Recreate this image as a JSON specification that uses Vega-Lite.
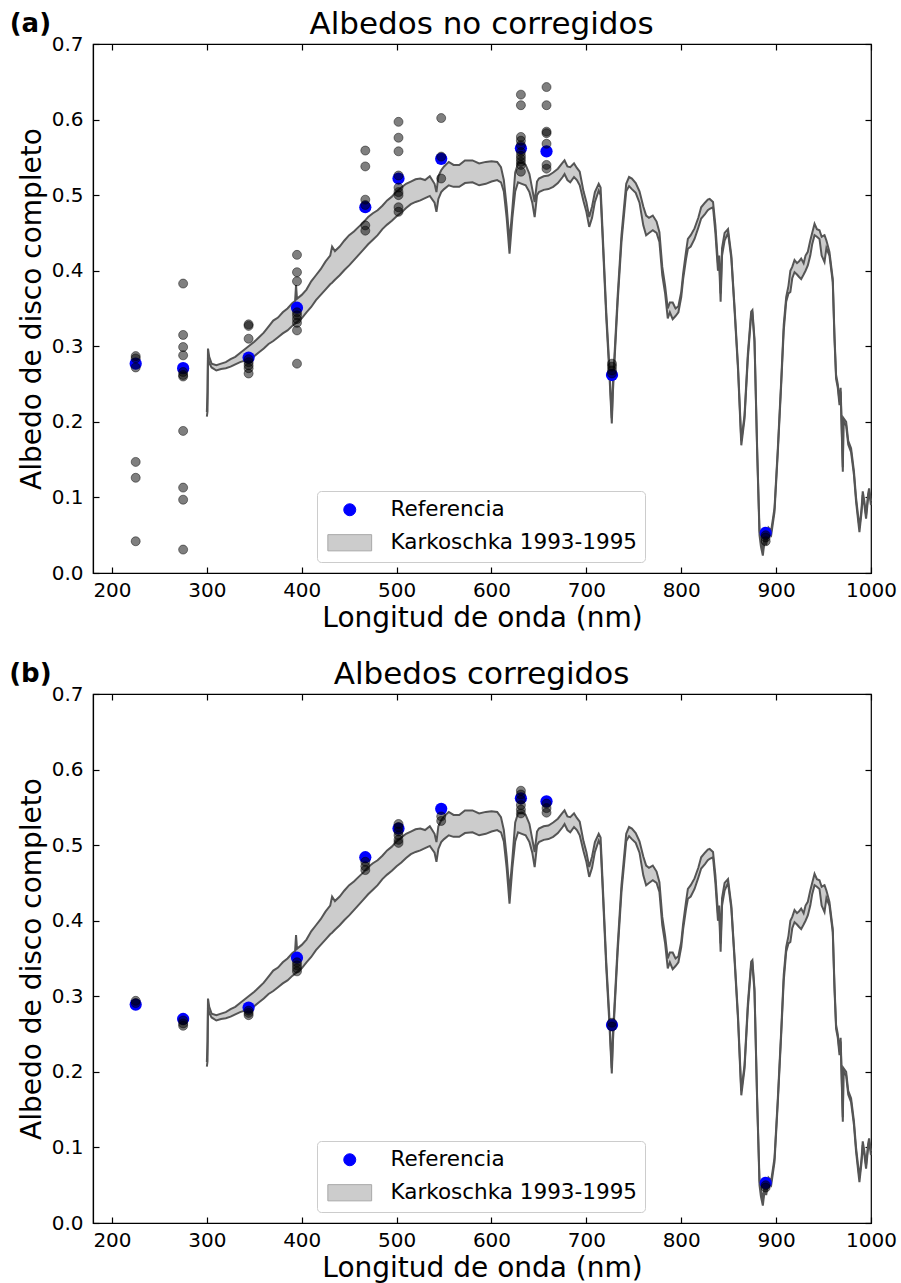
{
  "$schema": "https://vega.github.io/schema/vega-lite/v6.json",
  "padding": {"left": 8, "top": 8, "right": 5, "bottom": 2},
  "config": {
    "font": "DejaVu Sans",
    "view": {"stroke": "#000", "strokeWidth": 1.2},
    "axis": {"grid": false, "tickColor": "#000", "domainColor": "#000", "domainWidth": 1.2, "labelColor": "#000", "titleColor": "#000", "labelFontSize": 20, "titleFontSize": 28, "titleFontWeight": "normal", "tickSize": -6, "tickWidth": 1.2, "labelPadding": 13, "labelFlush": false, "labelFont": "DejaVu Sans", "titleFont": "DejaVu Sans"},
    "axisY": {"labelPadding": 16}
  },
  "datasets": {
    "band": [
      {"nm": 300.0, "lo": 0.207, "hi": 0.213},
      {"nm": 300.7, "lo": 0.214, "hi": 0.24},
      {"nm": 301.2, "lo": 0.285, "hi": 0.297},
      {"nm": 302.5, "lo": 0.278, "hi": 0.286},
      {"nm": 305, "lo": 0.272, "hi": 0.277},
      {"nm": 310, "lo": 0.268, "hi": 0.275},
      {"nm": 315, "lo": 0.27, "hi": 0.277},
      {"nm": 320, "lo": 0.271, "hi": 0.279},
      {"nm": 325, "lo": 0.273, "hi": 0.283},
      {"nm": 330, "lo": 0.276, "hi": 0.286},
      {"nm": 335, "lo": 0.279, "hi": 0.291},
      {"nm": 340, "lo": 0.281, "hi": 0.296},
      {"nm": 345, "lo": 0.284, "hi": 0.301},
      {"nm": 350, "lo": 0.287, "hi": 0.306},
      {"nm": 355, "lo": 0.292, "hi": 0.312},
      {"nm": 360, "lo": 0.297, "hi": 0.318},
      {"nm": 365, "lo": 0.303, "hi": 0.326},
      {"nm": 370, "lo": 0.307, "hi": 0.334},
      {"nm": 375, "lo": 0.312, "hi": 0.338},
      {"nm": 380, "lo": 0.317, "hi": 0.345},
      {"nm": 385, "lo": 0.321, "hi": 0.35},
      {"nm": 390, "lo": 0.327, "hi": 0.357},
      {"nm": 393, "lo": 0.33, "hi": 0.36},
      {"nm": 394, "lo": 0.331, "hi": 0.381},
      {"nm": 395, "lo": 0.332, "hi": 0.363},
      {"nm": 400, "lo": 0.337, "hi": 0.368},
      {"nm": 405, "lo": 0.345, "hi": 0.375},
      {"nm": 410, "lo": 0.352, "hi": 0.386},
      {"nm": 415, "lo": 0.361, "hi": 0.394},
      {"nm": 420, "lo": 0.368, "hi": 0.402},
      {"nm": 425, "lo": 0.375, "hi": 0.412},
      {"nm": 430, "lo": 0.382, "hi": 0.42},
      {"nm": 432, "lo": 0.384, "hi": 0.432},
      {"nm": 435, "lo": 0.388, "hi": 0.426},
      {"nm": 440, "lo": 0.394, "hi": 0.432},
      {"nm": 445, "lo": 0.401, "hi": 0.44},
      {"nm": 450, "lo": 0.407, "hi": 0.447},
      {"nm": 455, "lo": 0.414, "hi": 0.452},
      {"nm": 460, "lo": 0.421, "hi": 0.458},
      {"nm": 465, "lo": 0.428, "hi": 0.464},
      {"nm": 470, "lo": 0.435, "hi": 0.471},
      {"nm": 475, "lo": 0.441, "hi": 0.476},
      {"nm": 480, "lo": 0.447, "hi": 0.48},
      {"nm": 485, "lo": 0.455, "hi": 0.486},
      {"nm": 490, "lo": 0.461, "hi": 0.493},
      {"nm": 495, "lo": 0.466, "hi": 0.498},
      {"nm": 500, "lo": 0.472, "hi": 0.505},
      {"nm": 505, "lo": 0.477, "hi": 0.51},
      {"nm": 510, "lo": 0.483, "hi": 0.515},
      {"nm": 515, "lo": 0.488, "hi": 0.518},
      {"nm": 520, "lo": 0.491, "hi": 0.521},
      {"nm": 525, "lo": 0.493, "hi": 0.522},
      {"nm": 530, "lo": 0.496, "hi": 0.52},
      {"nm": 535, "lo": 0.499, "hi": 0.525},
      {"nm": 540, "lo": 0.49, "hi": 0.515},
      {"nm": 542, "lo": 0.478, "hi": 0.504},
      {"nm": 544, "lo": 0.495, "hi": 0.525},
      {"nm": 547, "lo": 0.504, "hi": 0.533},
      {"nm": 550, "lo": 0.508, "hi": 0.538},
      {"nm": 555, "lo": 0.513, "hi": 0.544},
      {"nm": 560, "lo": 0.511, "hi": 0.54},
      {"nm": 566, "lo": 0.511, "hi": 0.54},
      {"nm": 572, "lo": 0.516, "hi": 0.546},
      {"nm": 580, "lo": 0.517, "hi": 0.546},
      {"nm": 587, "lo": 0.513, "hi": 0.542},
      {"nm": 594, "lo": 0.515, "hi": 0.544},
      {"nm": 600, "lo": 0.518, "hi": 0.545},
      {"nm": 606, "lo": 0.52, "hi": 0.544},
      {"nm": 610, "lo": 0.517, "hi": 0.537},
      {"nm": 613, "lo": 0.505, "hi": 0.52},
      {"nm": 616, "lo": 0.47, "hi": 0.485},
      {"nm": 619, "lo": 0.4225, "hi": 0.438},
      {"nm": 622, "lo": 0.47, "hi": 0.482},
      {"nm": 625, "lo": 0.505, "hi": 0.53},
      {"nm": 628, "lo": 0.517, "hi": 0.542},
      {"nm": 632, "lo": 0.515, "hi": 0.543},
      {"nm": 636, "lo": 0.513, "hi": 0.54},
      {"nm": 640, "lo": 0.504, "hi": 0.528},
      {"nm": 643, "lo": 0.49, "hi": 0.508},
      {"nm": 645.5, "lo": 0.471, "hi": 0.491},
      {"nm": 648, "lo": 0.5, "hi": 0.518},
      {"nm": 650, "lo": 0.504, "hi": 0.522},
      {"nm": 655, "lo": 0.507, "hi": 0.525},
      {"nm": 660, "lo": 0.508, "hi": 0.526},
      {"nm": 665, "lo": 0.511, "hi": 0.53},
      {"nm": 670, "lo": 0.516, "hi": 0.535},
      {"nm": 675, "lo": 0.524, "hi": 0.543},
      {"nm": 677, "lo": 0.528, "hi": 0.546},
      {"nm": 680, "lo": 0.52, "hi": 0.538},
      {"nm": 683, "lo": 0.517, "hi": 0.537},
      {"nm": 687, "lo": 0.524, "hi": 0.542},
      {"nm": 690, "lo": 0.52, "hi": 0.536},
      {"nm": 693, "lo": 0.513, "hi": 0.531},
      {"nm": 697, "lo": 0.492, "hi": 0.505},
      {"nm": 700, "lo": 0.478, "hi": 0.491},
      {"nm": 703, "lo": 0.458, "hi": 0.471},
      {"nm": 706, "lo": 0.47, "hi": 0.485},
      {"nm": 709, "lo": 0.491, "hi": 0.504},
      {"nm": 713, "lo": 0.506, "hi": 0.515},
      {"nm": 715, "lo": 0.5, "hi": 0.51},
      {"nm": 717, "lo": 0.447, "hi": 0.455},
      {"nm": 721, "lo": 0.337, "hi": 0.345},
      {"nm": 724, "lo": 0.27, "hi": 0.278},
      {"nm": 726.8, "lo": 0.198, "hi": 0.205},
      {"nm": 728, "lo": 0.24, "hi": 0.25},
      {"nm": 729.6, "lo": 0.279, "hi": 0.287},
      {"nm": 733, "lo": 0.359, "hi": 0.367},
      {"nm": 737, "lo": 0.438, "hi": 0.447},
      {"nm": 742, "lo": 0.505, "hi": 0.515},
      {"nm": 745, "lo": 0.512, "hi": 0.524},
      {"nm": 748, "lo": 0.508, "hi": 0.522},
      {"nm": 752, "lo": 0.503, "hi": 0.516},
      {"nm": 756, "lo": 0.49, "hi": 0.505},
      {"nm": 760, "lo": 0.46, "hi": 0.485},
      {"nm": 763, "lo": 0.447, "hi": 0.473},
      {"nm": 766, "lo": 0.45, "hi": 0.47},
      {"nm": 770, "lo": 0.4535, "hi": 0.473},
      {"nm": 774, "lo": 0.45, "hi": 0.465},
      {"nm": 777, "lo": 0.438, "hi": 0.451},
      {"nm": 780, "lo": 0.394, "hi": 0.405},
      {"nm": 783, "lo": 0.37, "hi": 0.38},
      {"nm": 785.8, "lo": 0.337, "hi": 0.35},
      {"nm": 788, "lo": 0.345, "hi": 0.358},
      {"nm": 791, "lo": 0.336, "hi": 0.358},
      {"nm": 794, "lo": 0.34, "hi": 0.35},
      {"nm": 797, "lo": 0.345, "hi": 0.353},
      {"nm": 800, "lo": 0.365, "hi": 0.372},
      {"nm": 802, "lo": 0.389, "hi": 0.396},
      {"nm": 805, "lo": 0.415, "hi": 0.425},
      {"nm": 807, "lo": 0.429, "hi": 0.442},
      {"nm": 810, "lo": 0.432, "hi": 0.447},
      {"nm": 814, "lo": 0.442, "hi": 0.456},
      {"nm": 818, "lo": 0.457, "hi": 0.47},
      {"nm": 821, "lo": 0.469, "hi": 0.484},
      {"nm": 825, "lo": 0.475, "hi": 0.49},
      {"nm": 828, "lo": 0.48, "hi": 0.494},
      {"nm": 830, "lo": 0.482, "hi": 0.495},
      {"nm": 833.5, "lo": 0.484, "hi": 0.491},
      {"nm": 836, "lo": 0.45, "hi": 0.46},
      {"nm": 838.7, "lo": 0.4, "hi": 0.41},
      {"nm": 840, "lo": 0.41, "hi": 0.42},
      {"nm": 841.5, "lo": 0.359, "hi": 0.37},
      {"nm": 843, "lo": 0.42, "hi": 0.43},
      {"nm": 845.7, "lo": 0.44, "hi": 0.45},
      {"nm": 849.3, "lo": 0.45, "hi": 0.455},
      {"nm": 852.8, "lo": 0.416, "hi": 0.42},
      {"nm": 856.3, "lo": 0.345, "hi": 0.35},
      {"nm": 859.8, "lo": 0.27, "hi": 0.275},
      {"nm": 863.3, "lo": 0.169, "hi": 0.175},
      {"nm": 866.7, "lo": 0.204, "hi": 0.209},
      {"nm": 870.2, "lo": 0.284, "hi": 0.29},
      {"nm": 873.7, "lo": 0.341, "hi": 0.346},
      {"nm": 875, "lo": 0.343, "hi": 0.348},
      {"nm": 877.2, "lo": 0.306, "hi": 0.31},
      {"nm": 880, "lo": 0.16, "hi": 0.165},
      {"nm": 882.5, "lo": 0.05, "hi": 0.056},
      {"nm": 884, "lo": 0.035, "hi": 0.045},
      {"nm": 886, "lo": 0.023, "hi": 0.03},
      {"nm": 888, "lo": 0.045, "hi": 0.05},
      {"nm": 889.5, "lo": 0.037, "hi": 0.043},
      {"nm": 892, "lo": 0.055, "hi": 0.06},
      {"nm": 894.8, "lo": 0.05, "hi": 0.056},
      {"nm": 898.3, "lo": 0.081, "hi": 0.086},
      {"nm": 901.8, "lo": 0.16, "hi": 0.165},
      {"nm": 905.3, "lo": 0.248, "hi": 0.253},
      {"nm": 908, "lo": 0.32, "hi": 0.328},
      {"nm": 910.6, "lo": 0.359, "hi": 0.365},
      {"nm": 913, "lo": 0.37, "hi": 0.38},
      {"nm": 915, "lo": 0.372, "hi": 0.4},
      {"nm": 917, "lo": 0.39, "hi": 0.405},
      {"nm": 919.4, "lo": 0.398, "hi": 0.414},
      {"nm": 922, "lo": 0.395, "hi": 0.41},
      {"nm": 924, "lo": 0.392, "hi": 0.412},
      {"nm": 926.4, "lo": 0.389, "hi": 0.416},
      {"nm": 929, "lo": 0.395, "hi": 0.41},
      {"nm": 931, "lo": 0.4, "hi": 0.42},
      {"nm": 933.4, "lo": 0.407, "hi": 0.425},
      {"nm": 936, "lo": 0.42, "hi": 0.44},
      {"nm": 938, "lo": 0.435, "hi": 0.45},
      {"nm": 940.5, "lo": 0.447, "hi": 0.462},
      {"nm": 943, "lo": 0.445, "hi": 0.455},
      {"nm": 945.7, "lo": 0.442, "hi": 0.4535},
      {"nm": 948, "lo": 0.42, "hi": 0.445},
      {"nm": 951, "lo": 0.4115, "hi": 0.447},
      {"nm": 953, "lo": 0.43, "hi": 0.44},
      {"nm": 956.2, "lo": 0.42, "hi": 0.425},
      {"nm": 959.7, "lo": 0.385, "hi": 0.389},
      {"nm": 961.5, "lo": 0.31, "hi": 0.315},
      {"nm": 963.2, "lo": 0.257, "hi": 0.262},
      {"nm": 965, "lo": 0.245, "hi": 0.25},
      {"nm": 966.8, "lo": 0.222, "hi": 0.227},
      {"nm": 968, "lo": 0.24, "hi": 0.245},
      {"nm": 970.3, "lo": 0.134, "hi": 0.14},
      {"nm": 971, "lo": 0.2, "hi": 0.205},
      {"nm": 973.8, "lo": 0.195, "hi": 0.2},
      {"nm": 976, "lo": 0.17, "hi": 0.175},
      {"nm": 979, "lo": 0.16, "hi": 0.165},
      {"nm": 982, "lo": 0.13, "hi": 0.135},
      {"nm": 984.3, "lo": 0.094, "hi": 0.099},
      {"nm": 987.8, "lo": 0.054, "hi": 0.06},
      {"nm": 990, "lo": 0.08, "hi": 0.085},
      {"nm": 991.3, "lo": 0.103, "hi": 0.108},
      {"nm": 993, "lo": 0.09, "hi": 0.095},
      {"nm": 994.8, "lo": 0.072, "hi": 0.077},
      {"nm": 997, "lo": 0.1, "hi": 0.105},
      {"nm": 998, "lo": 0.107, "hi": 0.112},
      {"nm": 1000, "lo": 0.09, "hi": 0.095}
    ],
    "ref_a": [
      {"nm": 225, "v": 0.277}, {"nm": 275, "v": 0.271}, {"nm": 344, "v": 0.285}, {"nm": 395, "v": 0.351},
      {"nm": 467, "v": 0.484}, {"nm": 502, "v": 0.522}, {"nm": 547, "v": 0.548}, {"nm": 631, "v": 0.562},
      {"nm": 658, "v": 0.558}, {"nm": 727, "v": 0.262}, {"nm": 889, "v": 0.053}
    ],
    "obs_a": [
      {"nm": 225, "v": 0.287}, {"nm": 225, "v": 0.284}, {"nm": 225, "v": 0.272}, {"nm": 225, "v": 0.147}, {"nm": 225, "v": 0.126}, {"nm": 225, "v": 0.042},
      {"nm": 275, "v": 0.383}, {"nm": 275, "v": 0.315}, {"nm": 275, "v": 0.299}, {"nm": 275, "v": 0.288}, {"nm": 275, "v": 0.266}, {"nm": 275, "v": 0.262}, {"nm": 275, "v": 0.26}, {"nm": 275, "v": 0.188}, {"nm": 275, "v": 0.113}, {"nm": 275, "v": 0.097}, {"nm": 275, "v": 0.031},
      {"nm": 344, "v": 0.329}, {"nm": 344, "v": 0.327}, {"nm": 344, "v": 0.31}, {"nm": 344, "v": 0.283}, {"nm": 344, "v": 0.279}, {"nm": 344, "v": 0.275}, {"nm": 344, "v": 0.271}, {"nm": 344, "v": 0.264},
      {"nm": 395, "v": 0.421}, {"nm": 395, "v": 0.398}, {"nm": 395, "v": 0.386}, {"nm": 395, "v": 0.345}, {"nm": 395, "v": 0.341}, {"nm": 395, "v": 0.336}, {"nm": 395, "v": 0.331}, {"nm": 395, "v": 0.321}, {"nm": 395, "v": 0.277},
      {"nm": 467, "v": 0.559}, {"nm": 467, "v": 0.538}, {"nm": 467, "v": 0.494}, {"nm": 467, "v": 0.487}, {"nm": 467, "v": 0.46}, {"nm": 467, "v": 0.453},
      {"nm": 502, "v": 0.597}, {"nm": 502, "v": 0.576}, {"nm": 502, "v": 0.558}, {"nm": 502, "v": 0.526}, {"nm": 502, "v": 0.51}, {"nm": 502, "v": 0.504}, {"nm": 502, "v": 0.5}, {"nm": 502, "v": 0.484}, {"nm": 502, "v": 0.478},
      {"nm": 547, "v": 0.602}, {"nm": 547, "v": 0.551}, {"nm": 547, "v": 0.522},
      {"nm": 631, "v": 0.633}, {"nm": 631, "v": 0.619}, {"nm": 631, "v": 0.577}, {"nm": 631, "v": 0.572}, {"nm": 631, "v": 0.566}, {"nm": 631, "v": 0.557}, {"nm": 631, "v": 0.552}, {"nm": 631, "v": 0.548}, {"nm": 631, "v": 0.544}, {"nm": 631, "v": 0.54}, {"nm": 631, "v": 0.531},
      {"nm": 658, "v": 0.643}, {"nm": 658, "v": 0.619}, {"nm": 658, "v": 0.584}, {"nm": 658, "v": 0.582}, {"nm": 658, "v": 0.568}, {"nm": 658, "v": 0.54}, {"nm": 658, "v": 0.535},
      {"nm": 727, "v": 0.277}, {"nm": 727, "v": 0.273}, {"nm": 727, "v": 0.268}, {"nm": 727, "v": 0.264},
      {"nm": 889, "v": 0.05}, {"nm": 889, "v": 0.047}, {"nm": 889, "v": 0.042}
    ],
    "ref_b": [
      {"nm": 225, "v": 0.289}, {"nm": 275, "v": 0.27}, {"nm": 344, "v": 0.285}, {"nm": 395, "v": 0.351},
      {"nm": 467, "v": 0.484}, {"nm": 502, "v": 0.522}, {"nm": 547, "v": 0.548}, {"nm": 631, "v": 0.562},
      {"nm": 658, "v": 0.558}, {"nm": 727, "v": 0.262}, {"nm": 889, "v": 0.053}
    ],
    "obs_b": [
      {"nm": 225, "v": 0.294}, {"nm": 225, "v": 0.291},
      {"nm": 275, "v": 0.268}, {"nm": 275, "v": 0.264}, {"nm": 275, "v": 0.261},
      {"nm": 344, "v": 0.281}, {"nm": 344, "v": 0.278}, {"nm": 344, "v": 0.275},
      {"nm": 395, "v": 0.345}, {"nm": 395, "v": 0.341}, {"nm": 395, "v": 0.337}, {"nm": 395, "v": 0.333},
      {"nm": 467, "v": 0.478}, {"nm": 467, "v": 0.472}, {"nm": 467, "v": 0.467},
      {"nm": 502, "v": 0.528}, {"nm": 502, "v": 0.524}, {"nm": 502, "v": 0.518}, {"nm": 502, "v": 0.513}, {"nm": 502, "v": 0.507}, {"nm": 502, "v": 0.503},
      {"nm": 547, "v": 0.538}, {"nm": 547, "v": 0.532},
      {"nm": 631, "v": 0.572}, {"nm": 631, "v": 0.567}, {"nm": 631, "v": 0.56}, {"nm": 631, "v": 0.553}, {"nm": 631, "v": 0.547}, {"nm": 631, "v": 0.542},
      {"nm": 658, "v": 0.555}, {"nm": 658, "v": 0.549}, {"nm": 658, "v": 0.543},
      {"nm": 727, "v": 0.265}, {"nm": 727, "v": 0.26},
      {"nm": 889, "v": 0.05}, {"nm": 889, "v": 0.047}
    ],
    "label_a": [{"t": "(a)", "titulo": "Albedos no corregidos"}],
    "label_b": [{"t": "(b)", "titulo": "Albedos corregidos"}]
  },
  "spacing": 121,
  "bounds": "flush",
  "resolve": {"scale": {"color": "independent", "shape": "independent"}, "legend": {"color": "independent", "shape": "independent"}},
  "vconcat": [
    {
      "width": 778, "height": 529,
      "resolve": {"axis": {"x": "independent", "y": "independent"}},
      "layer": [
        {
          "data": {"name": "band"},
          "mark": {"type": "area", "opacity": 1},
          "encoding": {
            "x": {"field": "nm", "type": "quantitative", "scale": {"domain": [180, 1000], "nice": false, "zero": false}, "axis": {"orient": "bottom", "values": [200, 300, 400, 500, 600, 700, 800, 900, 1000], "format": "d", "title": "Longitud de onda (nm)", "titlePadding": 4}},
            "y": {"field": "lo", "type": "quantitative", "scale": {"domain": [0, 0.7], "nice": false}, "axis": {"orient": "left", "values": [0, 0.1, 0.2, 0.3, 0.4, 0.5, 0.6, 0.7], "format": ".1f", "title": "Albedo de disco completo", "titlePadding": 5}},
            "y2": {"field": "hi"},
            "color": {"datum": "Karkoschka 1993-1995", "scale": {"domain": ["Referencia", "Karkoschka 1993-1995"], "range": ["#0000ff", "#cccccc"]},
              "legend": {"orient": "none", "legendX": 224, "legendY": 447, "title": null, "direction": "vertical", "labelFontSize": 21.5, "labelFont": "DejaVu Sans", "labelColor": "#000", "symbolSize": 144, "symbolOffset": 14, "labelOffset": 30, "padding": 8, "rowPadding": 10, "fillColor": "#fff", "strokeColor": "#cccccc", "cornerRadius": 4, "symbolOpacity": 1, "labelLimit": 400,
                "encode": {"symbols": {"update": {"stroke": {"signal": "datum.value === 'Referencia' ? '#0000ff' : '#a8a8a8'"}, "strokeWidth": {"value": 1}}}}}}
          }
        },
        {
          "data": {"name": "band"},
          "mark": {"type": "line", "color": "#555555", "strokeWidth": 2},
          "encoding": {
            "x": {"field": "nm", "type": "quantitative", "scale": {"domain": [180, 1000], "nice": false, "zero": false}, "axis": {"orient": "top", "values": [200, 300, 400, 500, 600, 700, 800, 900, 1000], "labels": false, "title": null, "domain": false}},
            "y": {"field": "lo", "type": "quantitative", "scale": {"domain": [0, 0.7], "nice": false}, "axis": {"orient": "right", "values": [0, 0.1, 0.2, 0.3, 0.4, 0.5, 0.6, 0.7], "labels": false, "title": null, "domain": false}}
          }
        },
        {
          "data": {"name": "band"},
          "mark": {"type": "line", "color": "#555555", "strokeWidth": 2},
          "encoding": {
            "x": {"field": "nm", "type": "quantitative", "axis": null},
            "y": {"field": "hi", "type": "quantitative", "axis": null}
          }
        },
        {
          "data": {"name": "ref_a"},
          "mark": {"type": "point", "filled": true, "size": 150, "opacity": 1},
          "encoding": {
            "x": {"field": "nm", "type": "quantitative", "axis": null},
            "y": {"field": "v", "type": "quantitative", "axis": null},
            "color": {"datum": "Referencia"},
            "shape": {"datum": "Referencia", "scale": {"domain": ["Referencia", "Karkoschka 1993-1995"], "range": ["circle", "M-3.65,-1.35H3.65V1.35H-3.65Z"]}}
          }
        },
        {
          "data": {"name": "obs_a"},
          "mark": {"type": "point", "filled": true, "size": 81, "fill": "#000", "fillOpacity": 0.5, "stroke": "#000", "strokeOpacity": 0.45, "strokeWidth": 1},
          "encoding": {
            "x": {"field": "nm", "type": "quantitative", "axis": null},
            "y": {"field": "v", "type": "quantitative", "axis": null}
          }
        },
        {
          "data": {"name": "label_a"},
          "mark": {"type": "text", "fontSize": 26, "fontWeight": "bold", "align": "center", "baseline": "middle", "color": "#000"},
          "encoding": {
            "x": {"datum": 114, "type": "quantitative", "axis": null},
            "y": {"datum": 0.726, "type": "quantitative", "axis": null},
            "text": {"field": "t"}
          }
        },
        {
          "data": {"name": "label_a"},
          "mark": {"type": "text", "fontSize": 31, "fontWeight": "normal", "align": "center", "baseline": "alphabetic", "color": "#000"},
          "encoding": {
            "x": {"datum": 589.5, "type": "quantitative", "axis": null},
            "y": {"datum": 0.7136, "type": "quantitative", "axis": null},
            "text": {"field": "titulo"}
          }
        }
      ]
    },
    {
      "width": 778, "height": 529,
      "resolve": {"axis": {"x": "independent", "y": "independent"}},
      "layer": [
        {
          "data": {"name": "band"},
          "mark": {"type": "area", "opacity": 1},
          "encoding": {
            "x": {"field": "nm", "type": "quantitative", "scale": {"domain": [180, 1000], "nice": false, "zero": false}, "axis": {"orient": "bottom", "values": [200, 300, 400, 500, 600, 700, 800, 900, 1000], "format": "d", "title": "Longitud de onda (nm)", "titlePadding": 4}},
            "y": {"field": "lo", "type": "quantitative", "scale": {"domain": [0, 0.7], "nice": false}, "axis": {"orient": "left", "values": [0, 0.1, 0.2, 0.3, 0.4, 0.5, 0.6, 0.7], "format": ".1f", "title": "Albedo de disco completo", "titlePadding": 5}},
            "y2": {"field": "hi"},
            "color": {"datum": "Karkoschka 1993-1995", "scale": {"domain": ["Referencia", "Karkoschka 1993-1995"], "range": ["#0000ff", "#cccccc"]},
              "legend": {"orient": "none", "legendX": 224, "legendY": 447, "title": null, "direction": "vertical", "labelFontSize": 21.5, "labelFont": "DejaVu Sans", "labelColor": "#000", "symbolSize": 144, "symbolOffset": 14, "labelOffset": 30, "padding": 8, "rowPadding": 10, "fillColor": "#fff", "strokeColor": "#cccccc", "cornerRadius": 4, "symbolOpacity": 1, "labelLimit": 400,
                "encode": {"symbols": {"update": {"stroke": {"signal": "datum.value === 'Referencia' ? '#0000ff' : '#a8a8a8'"}, "strokeWidth": {"value": 1}}}}}}
          }
        },
        {
          "data": {"name": "band"},
          "mark": {"type": "line", "color": "#555555", "strokeWidth": 2},
          "encoding": {
            "x": {"field": "nm", "type": "quantitative", "scale": {"domain": [180, 1000], "nice": false, "zero": false}, "axis": {"orient": "top", "values": [200, 300, 400, 500, 600, 700, 800, 900, 1000], "labels": false, "title": null, "domain": false}},
            "y": {"field": "lo", "type": "quantitative", "scale": {"domain": [0, 0.7], "nice": false}, "axis": {"orient": "right", "values": [0, 0.1, 0.2, 0.3, 0.4, 0.5, 0.6, 0.7], "labels": false, "title": null, "domain": false}}
          }
        },
        {
          "data": {"name": "band"},
          "mark": {"type": "line", "color": "#555555", "strokeWidth": 2},
          "encoding": {
            "x": {"field": "nm", "type": "quantitative", "axis": null},
            "y": {"field": "hi", "type": "quantitative", "axis": null}
          }
        },
        {
          "data": {"name": "ref_b"},
          "mark": {"type": "point", "filled": true, "size": 150, "opacity": 1},
          "encoding": {
            "x": {"field": "nm", "type": "quantitative", "axis": null},
            "y": {"field": "v", "type": "quantitative", "axis": null},
            "color": {"datum": "Referencia"},
            "shape": {"datum": "Referencia", "scale": {"domain": ["Referencia", "Karkoschka 1993-1995"], "range": ["circle", "M-3.65,-1.35H3.65V1.35H-3.65Z"]}}
          }
        },
        {
          "data": {"name": "obs_b"},
          "mark": {"type": "point", "filled": true, "size": 81, "fill": "#000", "fillOpacity": 0.5, "stroke": "#000", "strokeOpacity": 0.45, "strokeWidth": 1},
          "encoding": {
            "x": {"field": "nm", "type": "quantitative", "axis": null},
            "y": {"field": "v", "type": "quantitative", "axis": null}
          }
        },
        {
          "data": {"name": "label_b"},
          "mark": {"type": "text", "fontSize": 26, "fontWeight": "bold", "align": "center", "baseline": "middle", "color": "#000"},
          "encoding": {
            "x": {"datum": 114, "type": "quantitative", "axis": null},
            "y": {"datum": 0.726, "type": "quantitative", "axis": null},
            "text": {"field": "t"}
          }
        },
        {
          "data": {"name": "label_b"},
          "mark": {"type": "text", "fontSize": 31, "fontWeight": "normal", "align": "center", "baseline": "alphabetic", "color": "#000"},
          "encoding": {
            "x": {"datum": 589.5, "type": "quantitative", "axis": null},
            "y": {"datum": 0.7136, "type": "quantitative", "axis": null},
            "text": {"field": "titulo"}
          }
        }
      ]
    }
  ]
}
